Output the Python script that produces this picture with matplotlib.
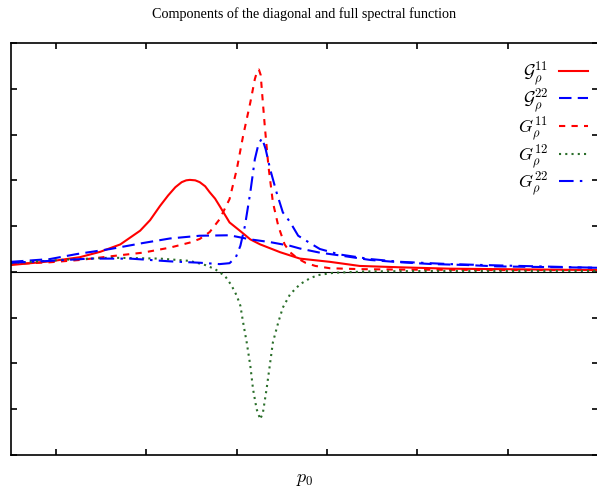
import numpy as np
import matplotlib
matplotlib.use("Agg")
import matplotlib.pyplot as plt

plt.rcParams["mathtext.fontset"] = "cm"
plt.rcParams["font.family"] = ["Liberation Serif", "DejaVu Serif"]

# ---- data (x in tick units, y in tick units) ----
x_cal11 = [0, 0.43, 0.76, 0.99, 1.21, 1.43, 1.54, 1.65, 1.74, 1.82, 1.89, 1.94,
           1.98, 2.04, 2.09, 2.15, 2.20, 2.26, 2.31, 2.42, 2.54, 2.65, 2.76,
           2.98, 3.20, 3.53, 3.86, 4.31, 4.86, 6.49]
y_cal11 = [0.15, 0.23, 0.32, 0.44, 0.60, 0.90, 1.13, 1.44, 1.67, 1.85, 1.96, 2.00,
           2.01, 2.00, 1.96, 1.87, 1.74, 1.60, 1.44, 1.08, 0.89, 0.71, 0.60,
           0.43, 0.29, 0.22, 0.13, 0.10, 0.07, 0.04]

x_cal22 = [0, 0.43, 0.73, 1.10, 1.46, 1.76, 2.09, 2.42, 2.65, 2.87, 3.09, 3.20,
           3.42, 3.64, 3.98, 4.31, 4.67, 5.05, 5.38, 6.49]
y_cal22 = [0.22, 0.28, 0.39, 0.50, 0.63, 0.73, 0.79, 0.80, 0.71, 0.65, 0.57, 0.51,
           0.42, 0.36, 0.26, 0.21, 0.17, 0.15, 0.12, 0.09]

x_g11 = [0, 0.43, 0.76, 1.10, 1.46, 1.76, 1.98, 2.09, 2.20, 2.31, 2.42, 2.50,
         2.57, 2.65, 2.70, 2.725, 2.745, 2.765, 2.78, 2.81, 2.85, 2.90, 2.96,
         3.03, 3.09, 3.17, 3.26, 3.37, 3.53, 3.86, 4.31, 5.42, 6.49]
y_g11 = [0.17, 0.21, 0.26, 0.34, 0.42, 0.53, 0.64, 0.72, 0.87, 1.15, 1.59, 2.24,
         2.97, 3.70, 4.21, 4.38, 4.42, 4.30, 3.92, 3.19, 2.32, 1.52, 1.00,
         0.60, 0.43, 0.30, 0.20, 0.13, 0.08, 0.06, 0.05, 0.04, 0.04]

x_g12 = [0, 0.54, 1.10, 1.65, 1.98, 2.15, 2.26, 2.31, 2.37, 2.44, 2.50, 2.54,
         2.57, 2.61, 2.65, 2.68, 2.72, 2.76, 2.79, 2.83, 2.87, 2.90, 2.96,
         3.01, 3.09, 3.20, 3.31, 3.40, 3.57, 3.94, 4.64, 6.49]
y_g12 = [0.19, 0.26, 0.31, 0.29, 0.24, 0.15, 0.06, -0.01, -0.09, -0.29, -0.52, -0.74,
         -1.10, -1.54, -2.05, -2.56, -3.00, -3.22, -3.07, -2.56, -1.98, -1.54, -1.10,
         -0.78, -0.49, -0.27, -0.14, -0.07, -0.02, 0.01, 0.02, 0.02]

x_g22 = [0, 0.43, 0.87, 1.32, 1.76, 2.09, 2.31, 2.42, 2.49, 2.54, 2.59, 2.65,
         2.70, 2.74, 2.78, 2.82, 2.87, 2.94, 3.01, 3.09, 3.18, 3.31, 3.42,
         3.64, 3.98, 4.31, 4.86, 5.42, 6.49]
y_g22 = [0.20, 0.24, 0.29, 0.29, 0.23, 0.20, 0.17, 0.19, 0.32, 0.57, 1.00, 1.74,
         2.46, 2.79, 2.92, 2.68, 2.24, 1.74, 1.30, 1.09, 0.79, 0.63, 0.50,
         0.38, 0.28, 0.22, 0.17, 0.14, 0.09]

labels = [r"$\mathcal{G}_\rho^{11}$", r"$\mathcal{G}_\rho^{22}$",
          r"$G_\rho^{11}$", r"$G_\rho^{12}$", r"$G_\rho^{22}$"]

# ---- plot ----
fig = plt.figure(figsize=(5.97, 4.89), dpi=100)
ax = fig.add_axes([11 / 597, 33 / 489, 587 / 597, 412 / 489])

ax.axhline(0, color="black", lw=0.8, zorder=1)
ax.plot(x_cal11, y_cal11, color="red", lw=1.5, label=labels[0])
ax.plot(x_cal22, y_cal22, color="blue", lw=1.5, dashes=(6, 3), label=labels[1])
ax.plot(x_g11, y_g11, color="red", lw=1.5, dashes=(3, 3), label=labels[2])
ax.plot(x_g12, y_g12, color="#2a6e2a", lw=1.5, dashes=(1, 2), label=labels[3])
ax.plot(x_g22, y_g22, color="blue", lw=1.5, dashes=(7, 3, 1.2, 3), label=labels[4])

ax.set_xlim(0, 6.5)
ax.set_ylim(-4, 5)
ax.set_xticks(np.arange(0.5, 6.5, 1.0))
ax.set_yticks(np.arange(-4, 6, 1))
ax.tick_params(direction="in", length=4, width=1.2, top=True, right=True,
               labelbottom=False, labelleft=False)
for s in ax.spines.values():
    s.set_linewidth(1.2)

ax.set_title("Components of the diagonal and full spectral function",
             fontsize=10.2, pad=19)
ax.set_xlabel("$p_0$", fontsize=13, labelpad=11)

leg = ax.legend(loc="upper right", frameon=False, markerfirst=False,
                fontsize=13, handlelength=1.6, handletextpad=0.6,
                labelspacing=0.0, borderaxespad=0.15,
                bbox_to_anchor=(1.0, 0.985))

fig.savefig("out.png", dpi=100)
